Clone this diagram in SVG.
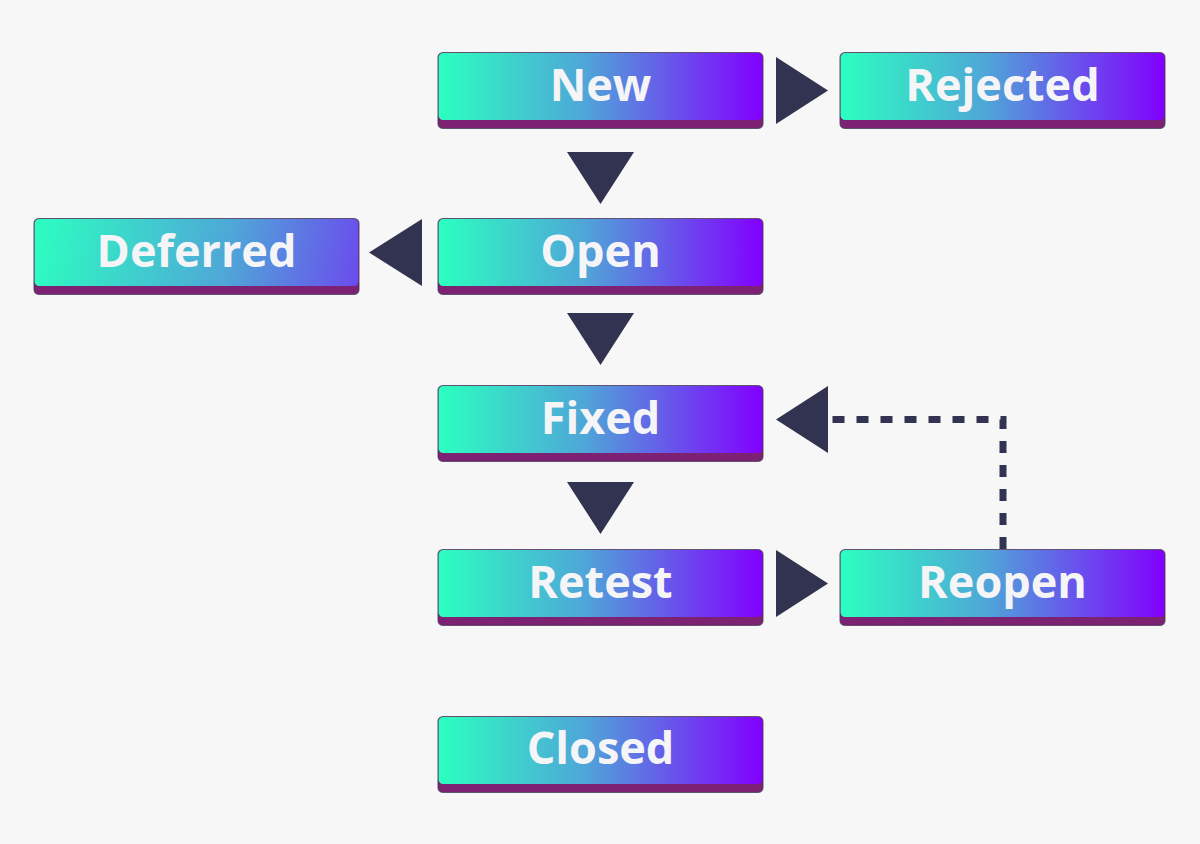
<svg xmlns="http://www.w3.org/2000/svg" width="1200" height="844" viewBox="0 0 1200 844">
  <defs>
    <linearGradient id="g" x1="0" y1="0" x2="1" y2="0">
      <stop offset="0" stop-color="#2cffc0"/>
      <stop offset="0.45" stop-color="#4fa6d8"/>
      <stop offset="1" stop-color="#8200ff"/>
    </linearGradient>
    <linearGradient id="gd" gradientUnits="userSpaceOnUse" x1="34" y1="219" x2="470" y2="290">
      <stop offset="0" stop-color="#2cffc0"/>
      <stop offset="0.45" stop-color="#4fa6d8"/>
      <stop offset="1" stop-color="#8200ff"/>
    </linearGradient>
    <style>
      .base { fill: #7d2172; stroke: #3a3a55; stroke-opacity: 0.7; stroke-width: 1.2; }
      .face { fill: url(#g); }
      .lbl { font-family: "Open Sans", "Noto Sans", sans-serif; font-weight: 700; font-size: 45px; fill: #f5f5f7; text-anchor: middle; }
      .tri { fill: #313350; }
      .dash { fill: none; stroke: #313350; stroke-width: 7; stroke-dasharray: 12 12; }
    </style>
  </defs>
  <rect width="1200" height="844" fill="#f7f7f7"/>

  <g id="connectors">
    <polygon class="tri" points="776,57 828,90.5 776,124"/>
    <polygon class="tri" points="567,152 634,152 600.5,204"/>
    <polygon class="tri" points="422,219 422,286 369,252.5"/>
    <polygon class="tri" points="567,313 634,313 600.5,365"/>
    <polygon class="tri" points="828,386 828,453 776,419.5"/>
    <polygon class="tri" points="567,482 634,482 600.5,534"/>
    <polygon class="tri" points="776,550 828,583.5 776,617"/>
    <path class="dash" d="M1003,549 V419.5 H831"/>
  </g>

  <g id="node-new">
    <rect class="base" x="438" y="52.5" width="325" height="76" rx="5"/>
    <rect class="face" x="438.6" y="53.1" width="323.8" height="67" rx="4.5"/>
    <text class="lbl" x="600.5" y="100.5">New</text>
  </g>
  <g id="node-rejected">
    <rect class="base" x="840" y="52.5" width="325" height="76" rx="5"/>
    <rect class="face" x="840.6" y="53.1" width="323.8" height="67" rx="4.5"/>
    <text class="lbl" x="1002.5" y="100.5">Rejected</text>
  </g>
  <g id="node-deferred">
    <rect class="base" x="34" y="218.5" width="325" height="76" rx="5"/>
    <rect x="34.6" y="219.1" width="323.8" height="67" rx="4.5" fill="url(#gd)"/>
    <text class="lbl" x="196.5" y="266.5">Deferred</text>
  </g>
  <g id="node-open">
    <rect class="base" x="438" y="218.5" width="325" height="76" rx="5"/>
    <rect class="face" x="438.6" y="219.1" width="323.8" height="67" rx="4.5"/>
    <text class="lbl" x="600.5" y="266.5">Open</text>
  </g>
  <g id="node-fixed">
    <rect class="base" x="438" y="385.5" width="325" height="76" rx="5"/>
    <rect class="face" x="438.6" y="386.1" width="323.8" height="67" rx="4.5"/>
    <text class="lbl" x="600.5" y="433.5">Fixed</text>
  </g>
  <g id="node-retest">
    <rect class="base" x="438" y="549.5" width="325" height="76" rx="5"/>
    <rect class="face" x="438.6" y="550.1" width="323.8" height="67" rx="4.5"/>
    <text class="lbl" x="600.5" y="597.5">Retest</text>
  </g>
  <g id="node-reopen">
    <rect class="base" x="840" y="549.5" width="325" height="76" rx="5"/>
    <rect class="face" x="840.6" y="550.1" width="323.8" height="67" rx="4.5"/>
    <text class="lbl" x="1002.5" y="597.5">Reopen</text>
  </g>
  <g id="node-closed">
    <rect class="base" x="438" y="716.5" width="325" height="76" rx="5"/>
    <rect class="face" x="438.6" y="717.1" width="323.8" height="67" rx="4.5"/>
    <text class="lbl" x="600.5" y="764">Closed</text>
  </g>
</svg>
